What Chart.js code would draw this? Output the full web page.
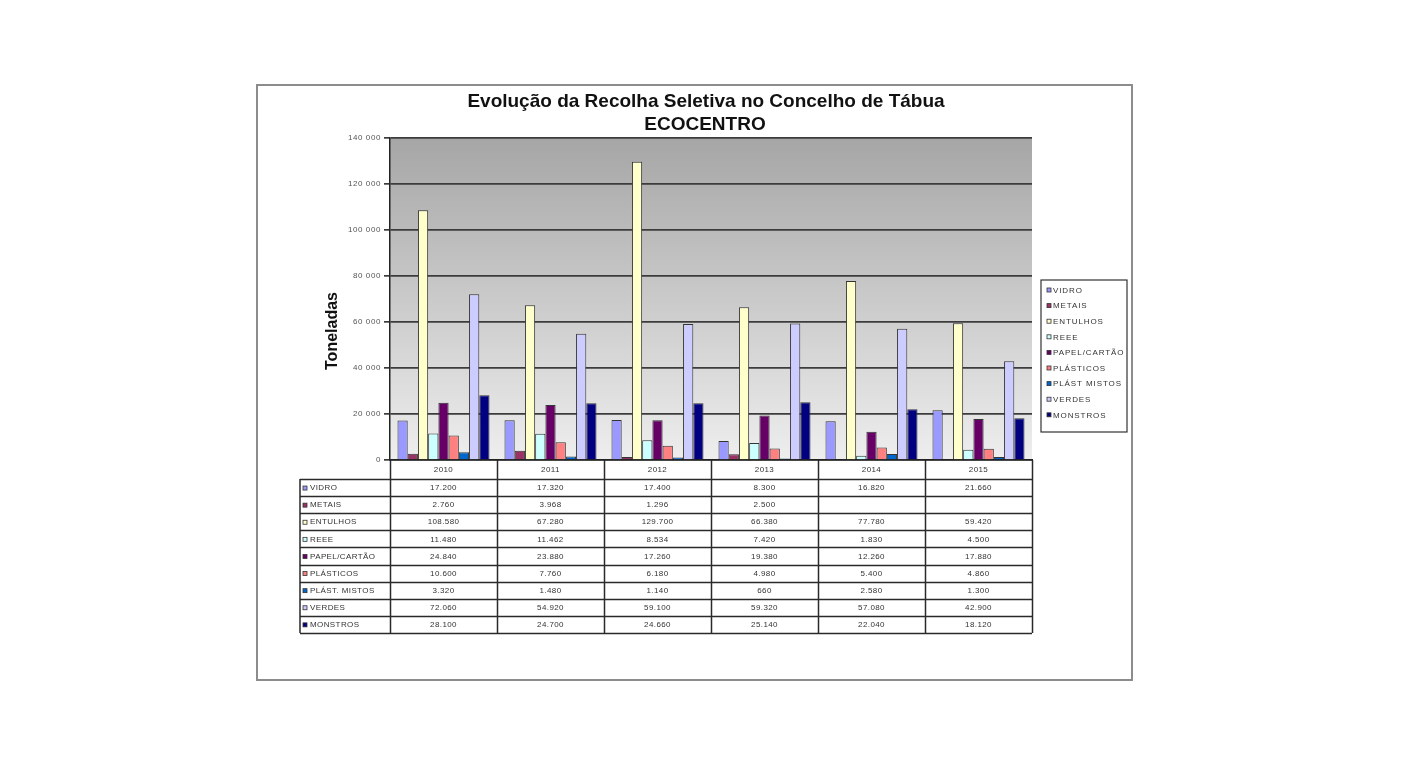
<!DOCTYPE html>
<html>
<head>
<meta charset="utf-8">
<script src="https://cdn.jsdelivr.net/npm/chart.js@4.4.0/dist/chart.umd.min.js"></script>
<style>
  html, body { margin: 0; padding: 0; background: #fff; overflow: hidden; }
  canvas { display: block; }
</style>
</head>
<body>
<canvas id="chart" width="1408" height="760"></canvas>
<script>
const years = ['2010', '2011', '2012', '2013', '2014', '2015'];
const seriesNames = ['VIDRO', 'METAIS', 'ENTULHOS', 'REEE', 'PAPEL/CARTÃO', 'PLÁSTICOS', 'PLÁST. MISTOS', 'VERDES', 'MONSTROS'];
const seriesColors = ['#9999ff', '#993366', '#ffffcc', '#ccffff', '#660066', '#ff8080', '#0066cc', '#ccccff', '#000080'];

const vidro = [17200, 17320, 17400, 8300, 16820, 21660];
const metais = [2760, 3968, 1296, 2500, null, null];
const entulhos = [108580, 67280, 129700, 66380, 77780, 59420];
const reee = [11480, 11462, 8534, 7420, 1830, 4500];
const papelCartao = [24840, 23880, 17260, 19380, 12260, 17880];
const plasticos = [10600, 7760, 6180, 4980, 5400, 4860];
const plastMistos = [3320, 1480, 1140, 660, 2580, 1300];
const verdes = [72060, 54920, 59100, 59320, 57080, 42900];
const monstros = [28100, 24700, 24660, 25140, 22040, 18120];

const yTicks = [0, 20000, 40000, 60000, 80000, 100000, 120000, 140000];

const allSeries = [vidro, metais, entulhos, reee, papelCartao, plasticos, plastMistos, verdes, monstros];

const spaced = v => String(v).replace(/\B(?=(\d{3})+(?!\d))/g, ' ');
const dotted = v => v == null ? '' : String(v).replace(/\B(?=(\d{3})+(?!\d))/g, '.');

// background, frame, titles, legend and data table
const decor = {
  id: 'decor',
  beforeDraw(chart) {
    const { ctx, chartArea: a } = chart;
    ctx.save();
    ctx.fillStyle = '#fff';
    ctx.fillRect(0, 0, chart.width, chart.height);
    const g = ctx.createLinearGradient(0, a.top, 0, a.bottom);
    g.addColorStop(0, '#a6a6a6');
    g.addColorStop(1, '#eeeeee');
    ctx.fillStyle = g;
    ctx.fillRect(a.left, a.top, a.right - a.left, a.bottom - a.top);
    ctx.restore();
    ctx.letterSpacing = '0.6px';
  },
  afterDraw(chart) {
    const { ctx, chartArea: a } = chart;
    const x = chart.scales.x;
    ctx.save();

    // outer frame
    ctx.strokeStyle = '#8c8c8c';
    ctx.lineWidth = 2;
    ctx.strokeRect(257, 85, 875, 595);

    // title
    ctx.letterSpacing = '0px';
    ctx.fillStyle = '#111';
    ctx.textAlign = 'center';
    ctx.textBaseline = 'middle';
    ctx.font = 'bold 19px "Liberation Sans", Arial, sans-serif';
    ctx.fillText('Evolução da Recolha Seletiva no Concelho de Tábua', 706, 102);
    ctx.fillText('ECOCENTRO', 705, 125);

    // y axis title
    ctx.save();
    ctx.translate(333, 331);
    ctx.rotate(-Math.PI / 2);
    ctx.font = 'bold 16px "Liberation Sans", Arial, sans-serif';
    ctx.fillText('Toneladas', 0, 0);
    ctx.restore();

    // legend
    const lx = 1041, ly = 280, lw = 86, lh = 152;
    ctx.fillStyle = '#fff';
    ctx.fillRect(lx, ly, lw, lh);
    ctx.strokeStyle = '#333';
    ctx.lineWidth = 1.2;
    ctx.strokeRect(lx, ly, lw, lh);
    ctx.font = '8px "Liberation Sans", Arial, sans-serif';
    ctx.letterSpacing = '0.9px';
    ctx.textAlign = 'left';
    seriesNames.forEach((name, i) => {
      const yy = 290 + i * 15.6;
      ctx.fillStyle = seriesColors[i];
      ctx.fillRect(lx + 6, yy - 2, 4, 4);
      ctx.strokeStyle = '#333';
      ctx.lineWidth = 0.8;
      ctx.strokeRect(lx + 6, yy - 2, 4, 4);
      ctx.fillStyle = '#333';
      ctx.fillText(name.replace('.', ''), lx + 12, yy + 0.5);
    });

    // data table
    const colW = (x.right - x.left) / years.length;
    const headBottom = 479;
    const rowH = 17.1;
    const tableBottom = headBottom + rowH * seriesNames.length;
    const labelLeft = 300;
    ctx.strokeStyle = '#2a2a2a';
    ctx.lineWidth = 1.5;
    ctx.beginPath();
    for (let i = 0; i <= years.length; i++) {
      const cx = Math.round(x.left + i * colW) + 0.5;
      ctx.moveTo(cx, a.bottom);
      ctx.lineTo(cx, tableBottom);
    }
    ctx.moveTo(labelLeft, headBottom);
    ctx.lineTo(labelLeft, tableBottom);
    for (let r = 0; r <= seriesNames.length; r++) {
      const ry = Math.round(headBottom + r * rowH) + 0.5;
      ctx.moveTo(labelLeft, ry);
      ctx.lineTo(x.right, ry);
    }
    ctx.stroke();

    ctx.font = '8px "Liberation Sans", Arial, sans-serif';
    ctx.letterSpacing = '0.4px';
    ctx.fillStyle = '#333';
    ctx.textAlign = 'center';
    years.forEach((yr, i) => {
      ctx.fillText(yr, x.getPixelForValue(i), (a.bottom + headBottom) / 2 + 0.5);
    });
    seriesNames.forEach((name, r) => {
      const cy = headBottom + r * rowH + rowH / 2 + 0.5;
      ctx.fillStyle = seriesColors[r];
      ctx.fillRect(labelLeft + 3, cy - 2, 4, 4);
      ctx.strokeStyle = '#333';
      ctx.lineWidth = 0.8;
      ctx.strokeRect(labelLeft + 3, cy - 2, 4, 4);
      ctx.fillStyle = '#333';
      ctx.textAlign = 'left';
      ctx.fillText(name, labelLeft + 10, cy);
      ctx.textAlign = 'center';
      allSeries[r].forEach((v, i) => {
        ctx.fillText(dotted(v), x.getPixelForValue(i), cy);
      });
    });
    ctx.restore();
  }
};

new Chart(document.getElementById('chart'), {
  type: 'bar',
  data: {
    labels: years,
    datasets: seriesNames.map((name, i) => ({
      label: name,
      data: allSeries[i],
      backgroundColor: seriesColors[i],
      borderColor: '#333',
      borderWidth: 1,
      categoryPercentage: 0.86,
      barPercentage: 1.0
    }))
  },
  options: {
    responsive: false,
    animation: false,
    devicePixelRatio: 1,
    layout: { padding: { left: 320, right: 376, top: 138, bottom: 300 } },
    plugins: {
      legend: { display: false },
      title: { display: false },
      tooltip: { enabled: false }
    },
    scales: {
      x: {
        grid: { display: false },
        border: { display: true, color: '#222', width: 1.5 },
        ticks: { display: false },
        afterFit: s => { s.height = 0; }
      },
      y: {
        min: 0,
        max: 140000,
        afterBuildTicks: s => { s.ticks = yTicks.map(v => ({ value: v })); },
        afterFit: s => { s.width = 70; },
        grid: { color: '#3c3c3c', lineWidth: 1.7, tickLength: 6 },
        border: { display: true, color: '#222', width: 1.5 },
        ticks: {
          color: '#555',
          padding: 3,
          font: { size: 8, family: '"Liberation Sans", Arial, sans-serif' },
          callback: v => spaced(v)
        }
      }
    }
  },
  plugins: [decor]
});
</script>
</body>
</html>
